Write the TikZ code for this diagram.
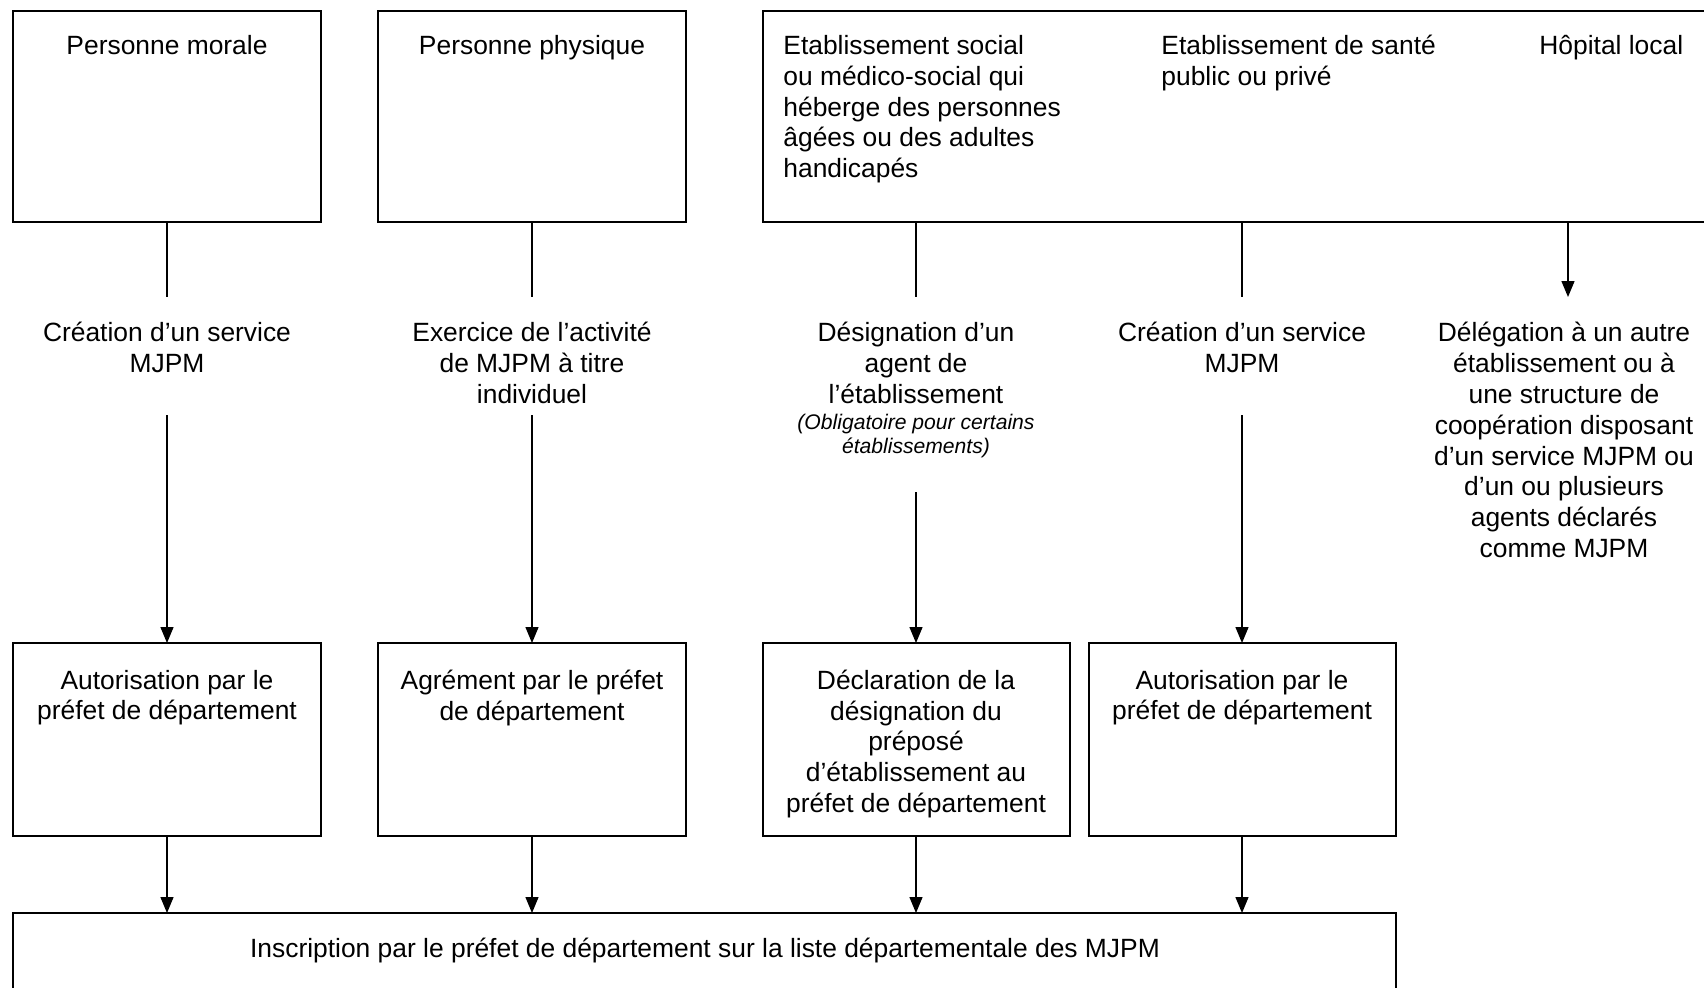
\documentclass[tikz,border=0pt]{standalone}
\usepackage{fontspec}
\setmainfont{Liberation Sans}
\usetikzlibrary{arrows.meta}
\begin{document}
\begin{tikzpicture}[x=0.5pt,y=-0.5pt,
  box/.style={draw, line width=0.8pt, inner sep=0pt, outer sep=0pt},
  txt/.style={font=\fontsize{13.2}{15.4}\selectfont, align=center, inner sep=0pt, anchor=north},
  ltxt/.style={font=\fontsize{13.2}{15.4}\selectfont, align=left, inner sep=0pt, anchor=north west},
  itxt/.style={font=\fontsize{10.56}{12.1}\selectfont\itshape, align=center, inner sep=0pt, anchor=north},
  conn/.style={line width=0.7pt},
  arr/.style={conn, -{Triangle[length=8pt,width=6.5pt]}}]
\clip (0,0) rectangle (1704,987);
\fill[white] (0,0) rectangle (1704,987);
% top boxes
\node[box, minimum width=154pt, minimum height=105.5pt] (B1) at (167,116.5) {};
\node[box, minimum width=154pt, minimum height=105.5pt] (B2) at (532,116.5) {};
\node[box, minimum width=478.5pt, minimum height=105.5pt] (B3) at (1241.5,116.5) {};
\node[txt] (T1) at (167,35) {Personne morale};
\node[txt] (T2) at (532,35) {Personne physique};
\node[ltxt] (T3) at (783,35) {Etablissement social\\ou médico-social qui\\héberge des personnes\\âgées ou des adultes\\handicapés};
\node[ltxt] (T4) at (1161,35) {Etablissement de santé\\public ou privé};
\node[ltxt] (T5) at (1539,35) {Hôpital local};
% middle boxes
\node[box, minimum width=154pt, minimum height=96.5pt] (M1) at (167,739.5) {};
\node[box, minimum width=154pt, minimum height=96.5pt] (M2) at (532,739.5) {};
\node[box, minimum width=153.5pt, minimum height=96.5pt] (M3) at (916.5,739.5) {};
\node[box, minimum width=153.5pt, minimum height=96.5pt] (M4) at (1242.5,739.5) {};
\node[txt] (N1) at (167,669.5) {Autorisation par le\\préfet de département};
\node[txt] (N2) at (532,669.5) {Agrément par le préfet\\de département};
\node[txt] (N3) at (916,669.5) {Déclaration de la\\désignation du\\préposé\\d’établissement au\\préfet de département};
\node[txt] (N4) at (1242,669.5) {Autorisation par le\\préfet de département};
% bottom box
\node[box, minimum width=691.5pt, minimum height=48.5pt] (Bot) at (704.5,961.5) {};
\node[txt] (BT) at (705,938) {Inscription par le préfet de département sur la liste départementale des MJPM};
% labels
\node[txt] (L1) at (167,322) {Création d’un service\\MJPM};
\node[txt] (L2) at (532,322) {Exercice de l’activité\\de MJPM à titre\\individuel};
\node[txt] (L3) at (916,322) {Désignation d’un\\agent de\\l’établissement};
\node[itxt] (L3i) at (916,414) {(Obligatoire pour certains\\établissements)};
\node[txt] (L4) at (1242,322) {Création d’un service\\MJPM};
\node[txt] (L5) at (1564,322) {Délégation à un autre\\établissement ou à\\une structure de\\coopération disposant\\d’un service MJPM ou\\d’un ou plusieurs\\agents déclarés\\comme MJPM};
% coordinates
\coordinate (a1) at (167,297); \coordinate (b1) at (167,415);
\coordinate (a2) at (532,297); \coordinate (b2) at (532,415);
\coordinate (a3) at (916,297); \coordinate (b3) at (916,492);
\coordinate (a4) at (1242,297); \coordinate (b4) at (1242,415);
\coordinate (a5) at (1568,297);
% connectors
\draw[conn] (B1.south) -- (a1);
\draw[conn] (B2.south) -- (a2);
\draw[conn] (B3.south -| a3) -- (a3);
\draw[conn] (B3.south -| a4) -- (a4);
\draw[arr] (B3.south -| a5) -- (a5);
\draw[arr] (b1) -- (M1.north);
\draw[arr] (b2) -- (M2.north);
\draw[arr] (b3) -- (M3.north -| b3);
\draw[arr] (b4) -- (M4.north -| b4);
\draw[arr] (M1.south) -- (M1.south |- Bot.north);
\draw[arr] (M2.south) -- (M2.south |- Bot.north);
\draw[arr] (M3.south -| b3) -- (b3 |- Bot.north);
\draw[arr] (M4.south -| b4) -- (b4 |- Bot.north);
\end{tikzpicture}
\end{document}
